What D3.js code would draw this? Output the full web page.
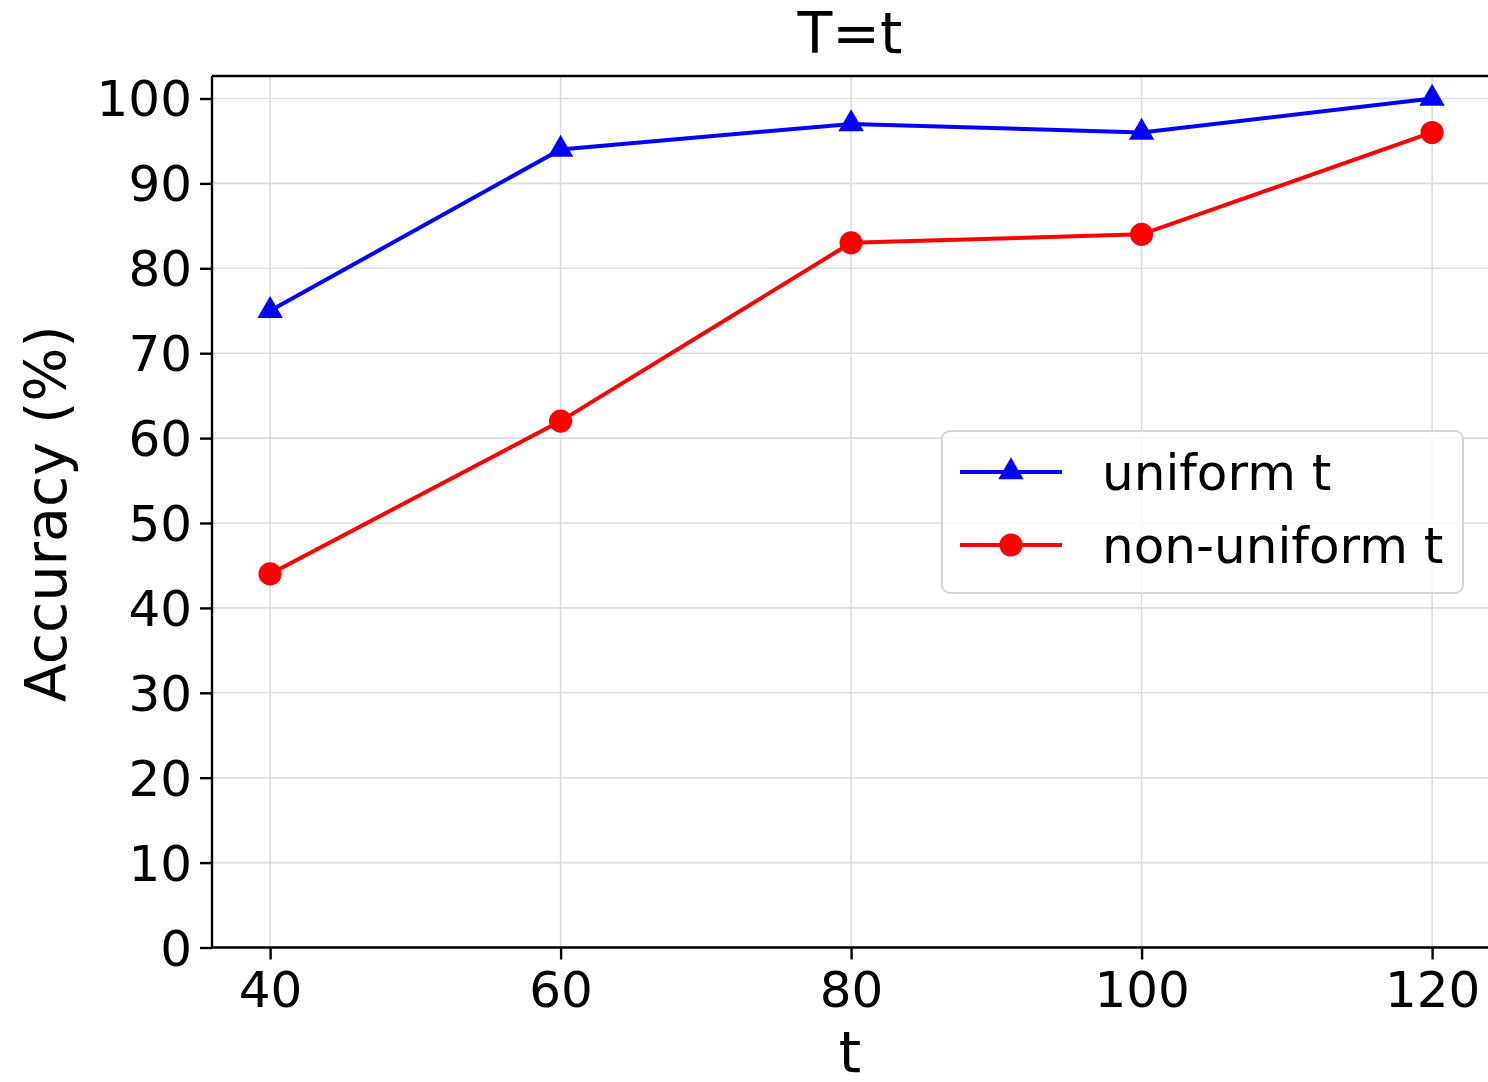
<!DOCTYPE html>
<html><head><meta charset="utf-8">
<script src="https://cdn.jsdelivr.net/npm/d3@7"></script>
<style>html,body{margin:0;padding:0;background:#fff}svg{display:block}</style>
</head><body>
<svg id="c" width="1488" height="1082"></svg>
<script>
const xValues = [40, 60, 80, 100, 120];
const uniform = [75, 94, 97, 96, 100];
const nonUniform = [44, 62, 83, 84, 96];
const yTicks = [0, 10, 20, 30, 40, 50, 60, 70, 80, 90, 100];
const xTicks = [40, 60, 80, 100, 120];
const seriesNames = ["uniform t", "non-uniform t"];

const svg = d3.select("#c");
const font = "DejaVu Sans, sans-serif";
const L = 212, T = 76, B = 947.5;
const x = d3.scaleLinear().domain([36, 124]).range([L, L + (124-36)*14.525]);
const y = d3.scaleLinear().domain([0, 102.65]).range([B, T]);

// grid
const g = svg.append("g");
g.selectAll(".gy").data(yTicks).enter().append("line")
  .attr("x1", L).attr("x2", 1488).attr("y1", d=>y(d)).attr("y2", d=>y(d))
  .attr("stroke", "#dcdcdc").attr("stroke-width", 1.6);
g.selectAll(".gx").data(xTicks).enter().append("line")
  .attr("y1", T).attr("y2", B).attr("x1", d=>x(d)).attr("x2", d=>x(d))
  .attr("stroke", "#dcdcdc").attr("stroke-width", 1.6);

// axes
const yAxis = d3.axisLeft(y).tickValues(yTicks).tickSize(12).tickPadding(8);
const xAxis = d3.axisBottom(x).tickValues(xTicks).tickSize(12).tickPadding(8);
const ya = svg.append("g").attr("transform", `translate(${L},0)`).call(yAxis);
const xa = svg.append("g").attr("transform", `translate(0,${B})`).call(xAxis);
[ya, xa].forEach(a => {
  a.select(".domain").remove();
  a.selectAll(".tick line").attr("stroke", "#000").attr("stroke-width", 2.4);
  a.selectAll("text").attr("font-family", font).attr("font-size", 50).attr("fill", "#000");
});
ya.selectAll("text").attr("dy", "0.35em");
xa.selectAll("text").attr("dy", "0.78em");

// spines
svg.append("line").attr("x1", L).attr("x2", L).attr("y1", T).attr("y2", B).attr("stroke", "#000").attr("stroke-width", 2.4);
svg.append("line").attr("x1", L).attr("x2", 1488).attr("y1", B).attr("y2", B).attr("stroke", "#000").attr("stroke-width", 2.4);
svg.append("line").attr("x1", L).attr("x2", 1488).attr("y1", T).attr("y2", T).attr("stroke", "#000").attr("stroke-width", 2.4);

// lines
const line = d3.line().x((d,i)=>x(xValues[i])).y(d=>y(d));
const tri = d3.symbol().type(d3.symbolTriangle).size(280);
const dot = d3.symbol().type(d3.symbolCircle).size(420);

function drawSeries(vals, color, sym) {
  svg.append("path").datum(vals).attr("d", line).attr("fill", "none")
    .attr("stroke", color).attr("stroke-width", 4);
  svg.selectAll(null).data(vals).enter().append("path")
    .attr("d", sym).attr("fill", color)
    .attr("transform", (d,i)=>`translate(${x(xValues[i])},${y(d)})`);
}
drawSeries(uniform, "#0000ff", tri);
drawSeries(nonUniform, "#ff0000", dot);

// title and labels
svg.append("text").attr("x", 850).attr("y", 53).attr("text-anchor", "middle")
  .attr("font-family", font).attr("font-size", 57).text("T=t");
svg.append("text").attr("x", 850).attr("y", 1072).attr("text-anchor", "middle")
  .attr("font-family", font).attr("font-size", 57).text("t");
svg.append("text").attr("transform", `translate(66,${(T+B)/2 + 2}) rotate(-90)`).attr("text-anchor", "middle")
  .attr("font-family", font).attr("font-size", 57).text("Accuracy (%)");

// legend
const lg = svg.append("g");
lg.append("rect").attr("x", 942).attr("y", 431).attr("width", 521).attr("height", 162)
  .attr("rx", 8).attr("fill", "#fff").attr("fill-opacity", 0.8).attr("stroke", "#d5d5d5").attr("stroke-width", 2);
const rows = [{c:"#0000ff", s:tri, yy:472}, {c:"#ff0000", s:dot, yy:545}];
rows.forEach((r,i) => {
  lg.append("line").attr("x1", 960).attr("x2", 1062).attr("y1", r.yy).attr("y2", r.yy)
    .attr("stroke", r.c).attr("stroke-width", 4);
  lg.append("path").attr("d", r.s).attr("fill", r.c).attr("transform", `translate(1011,${r.yy})`);
  lg.append("text").attr("x", 1102).attr("y", r.yy).attr("dy", "0.35em")
    .attr("font-family", font).attr("font-size", 50).text(seriesNames[i]);
});
</script>
</body></html>
